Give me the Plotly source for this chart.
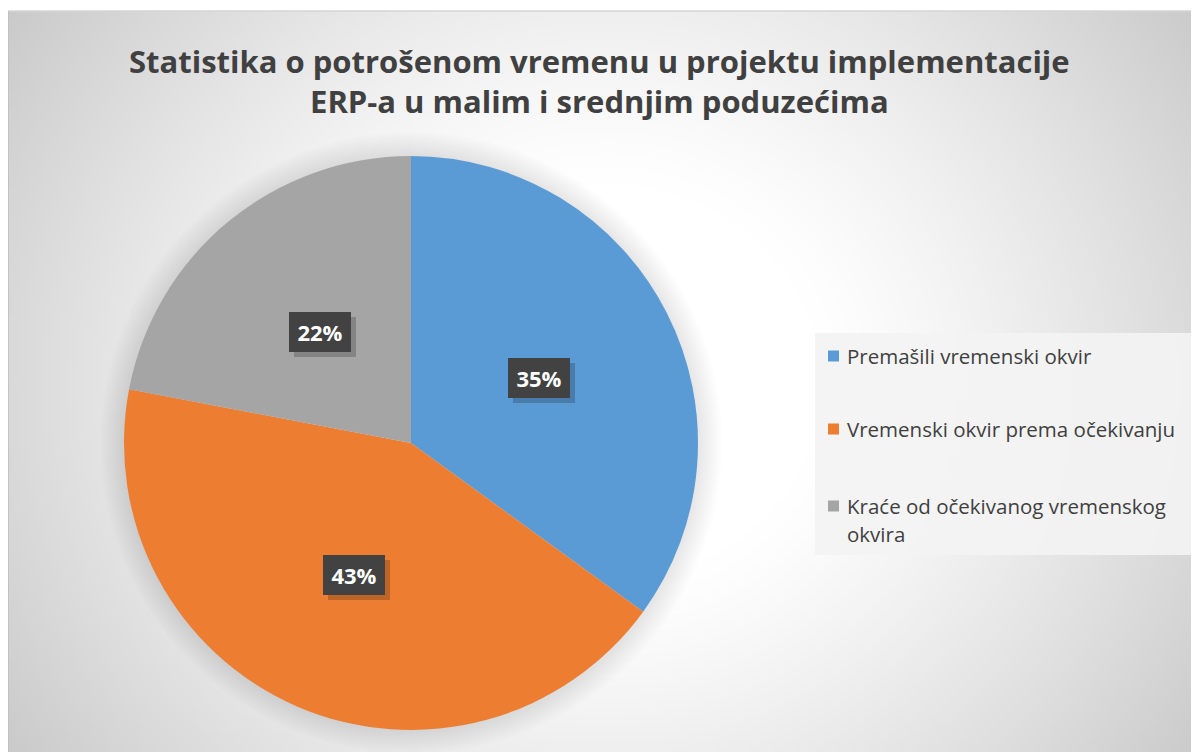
import base64, struct, zlib, textwrap, math
import numpy as np
import plotly.graph_objects as go

# ---------------- data ----------------
title_lines = ["Statistika o potrošenom vremenu u projektu implementacije",
               "ERP-a u malim i srednjim poduzećima"]
labels = ["Premašili vremenski okvir",
          "Vremenski okvir prema očekivanju",
          "Kraće od očekivanog vremenskog okvira"]
values = [35, 43, 22]
colors = ["#5B9BD5", "#ED7D31", "#A5A5A5"]

W, H = 1199, 752
OFF = 8  # page body margin


def X(px):
    return (px - OFF) / W


def Y(py):
    return 1 - (py - OFF) / H


# ---------------- background gradient (style only) ----------------
def png_uri(arr):
    h, w = arr.shape
    raw = b"".join(b"\x00" + arr[i].tobytes() for i in range(h))

    def chunk(t, d):
        c = struct.pack(">I", len(d)) + t + d
        return c + struct.pack(">I", zlib.crc32(t + d) & 0xffffffff)
    png = (b"\x89PNG\r\n\x1a\n" + chunk(b"IHDR", struct.pack(">IIBBBBB", w, h, 8, 0, 0, 0, 0))
           + chunk(b"IDAT", zlib.compress(raw, 9)) + chunk(b"IEND", b""))
    return "data:image/png;base64," + base64.b64encode(png).decode()


bx0, by0, bx1, by1 = 8, 11, 1199, 752
gw, gh = (bx1 - bx0) // 4, (by1 - by0) // 4
yy, xx = np.mgrid[0:gh, 0:gw].astype(float)
px = bx0 + xx * 4
py = by0 + yy * 4
d = np.sqrt(((px - 603) * 0.92) ** 2 + (py - 381) ** 2)
t = np.clip((d - 200) / 500, 0, None)
val = np.clip(255 - 58 * t ** 1.2, 190, 255).astype(np.uint8)
bg_uri = png_uri(val)

# ---------------- pie ----------------
cx, cy, R = 411, 443, 287
fig = go.Figure()
fig.add_trace(go.Pie(
    labels=labels, values=values, sort=False, direction="clockwise",
    marker=dict(colors=colors, line=dict(width=0)),
    textinfo="none", showlegend=False,
    hovertemplate="%{label}: %{percent}<extra></extra>",
    domain=dict(x=[X(cx - R), X(cx + R)], y=[Y(cy + R), Y(cy - R)]),
))

shapes = []
# soft shadow around the pie
for k in range(12):
    rr = R + 24 - 2 * k
    shapes.append(dict(type="circle", xref="paper", yref="paper", layer="below",
                       x0=X(cx - rr), x1=X(cx + rr), y0=Y(cy + rr), y1=Y(cy - rr),
                       fillcolor="rgba(0,0,0,0.007)", line=dict(width=0)))

annotations = []
# data labels: dark boxes at half radius of each slice's mid-angle
total = sum(values)
cum = 0
for v in values:
    mid = (cum + v / 2) / total * 2 * math.pi
    cum += v
    lx = cx + 0.5 * R * math.sin(mid)
    ly = cy - 0.5 * R * math.cos(mid)
    txt = f"{round(v / total * 100)}%"
    common = dict(x=X(lx), y=Y(ly), xref="paper", yref="paper", showarrow=False,
                  width=52, height=30, borderpad=5, borderwidth=0,
                  xanchor="center", yanchor="middle")
    annotations.append(dict(text="&nbsp;", bgcolor="rgba(0,0,0,0.2)", xshift=5, yshift=-5,
                            font=dict(size=22, family="Open Sans"), **common))
    annotations.append(dict(text=f"<b>{txt}</b>", bgcolor="#424242",
                            font=dict(color="white", size=22, family="Open Sans"), **common))

# title
annotations.append(dict(text="<b>" + "<br>".join(title_lines) + "</b>", x=X(599), y=Y(81.5),
                        xref="paper", yref="paper", showarrow=False, xanchor="center", yanchor="middle",
                        font=dict(size=31, color="#404040", family="Open Sans")))

# legend (drawn manually to reproduce spacing)
shapes.append(dict(type="rect", xref="paper", yref="paper", x0=X(815), x1=X(1196),
                   y0=Y(555), y1=Y(333), fillcolor="rgba(243,243,243,0.92)", line=dict(width=0),
                   layer="below"))
item_tops = [356, 429, 506]
for lab, col, ty in zip(labels, colors, item_tops):
    shapes.append(dict(type="rect", xref="paper", yref="paper", x0=X(828), x1=X(839),
                       y0=Y(ty + 5.5), y1=Y(ty - 5.5), fillcolor=col, line=dict(width=0)))
    for k, line in enumerate(textwrap.wrap(lab, 33)):
        annotations.append(dict(text=line, x=X(845), y=Y(ty + 28 * k), xref="paper", yref="paper",
                                showarrow=False, xanchor="left", yanchor="middle",
                                font=dict(size=20.5, color="#404040", family="Open Sans")))

# chart-area top and left border lines
shapes.append(dict(type="line", xref="paper", yref="paper", x0=X(bx0), x1=1, y0=Y(by0), y1=Y(by0),
                   line=dict(color="#d4d4d4", width=1.5)))
shapes.append(dict(type="line", xref="paper", yref="paper", x0=X(bx0), x1=X(bx0), y0=0, y1=Y(by0),
                   line=dict(color="#bdbdbd", width=1.5)))

fig.update_layout(
    width=W, height=H, margin=dict(l=0, r=0, t=0, b=0),
    paper_bgcolor="white", plot_bgcolor="white",
    images=[dict(source=bg_uri, xref="paper", yref="paper", x=X(bx0), y=Y(by0),
                 sizex=(bx1 - bx0) / W, sizey=(by1 - by0) / H, sizing="stretch", layer="below",
                 xanchor="left", yanchor="top")],
    annotations=annotations, shapes=shapes,
)
fig.write_html("out.html")
